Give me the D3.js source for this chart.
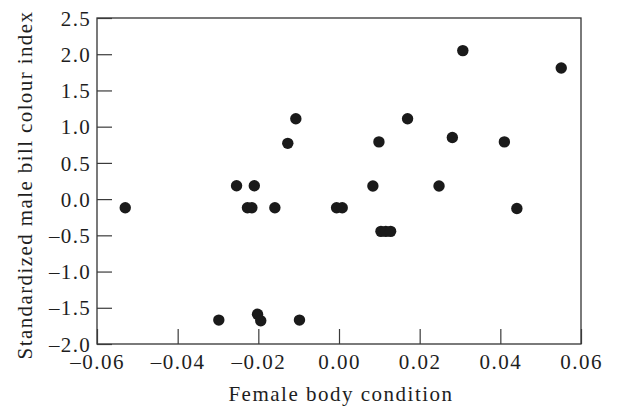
<!DOCTYPE html>
<html>
<head>
<meta charset="utf-8">
<script src="https://cdn.jsdelivr.net/npm/d3@7/dist/d3.min.js"></script>
<style>
  html, body { margin: 0; padding: 0; background: #fff; }
  svg { display: block; }
  text { font-family: "Liberation Serif", "DejaVu Serif", serif; fill: #1e1e1e; }
</style>
</head>
<body>
<svg id="chart" width="618" height="408"></svg>
<script>
// Data
const bodyCondition = [
  -0.0530, -0.0298, -0.0254, -0.0227, -0.0216, -0.0210, -0.0202, -0.0194, -0.0159,
  -0.0127, -0.0107, -0.0098, -0.0006, 0.0008, 0.0084, 0.0099, 0.0104, 0.0116,
  0.0128, 0.0170, 0.0248, 0.0281, 0.0307, 0.0410, 0.0441, 0.0551
];
const billColour = [
  -0.12, -1.67, 0.185, -0.12, -0.12, 0.185, -1.59, -1.68, -0.12,
  0.77, 1.11, -1.67, -0.12, -0.12, 0.18, 0.79, -0.445, -0.445,
  -0.445, 1.11, 0.18, 0.85, 2.05, 0.79, -0.13, 1.81
];
const xTicks = [-0.06, -0.04, -0.02, 0.00, 0.02, 0.04, 0.06];
const yTicks = [-2.0, -1.5, -1.0, -0.5, 0.0, 0.5, 1.0, 1.5, 2.0, 2.5];
const xTitle = "Female body condition";
const yTitle = "Standardized male bill colour index";

const svg = d3.select("#chart");
const mLeft = 97, mRight = 581, mTop = 18, mBottom = 344;

const x = d3.scaleLinear().domain([-0.06, 0.06]).range([mLeft, mRight]);
const y = d3.scaleLinear().domain([-2.0, 2.5]).range([mBottom, mTop]);

const fmtX = v => (v < 0 ? "\u2013" : "") + Math.abs(v).toFixed(2);
const fmtY = v => (v < 0 ? "\u2013" : "") + Math.abs(v).toFixed(1);

// Frame
svg.append("rect")
  .attr("x", mLeft).attr("y", mTop)
  .attr("width", mRight - mLeft).attr("height", mBottom - mTop)
  .attr("fill", "none").attr("stroke", "#333").attr("stroke-width", 1.3);

// X axis (ticks inward)
const xAxis = d3.axisBottom(x).tickValues(xTicks).tickSize(-15).tickPadding(10).tickFormat(fmtX);
const gx = svg.append("g").attr("transform", `translate(0,${mBottom})`).call(xAxis);
gx.select(".domain").remove();
gx.selectAll(".tick line").attr("stroke", "#3a3a3a").attr("stroke-width", 1.2);
gx.selectAll(".tick text")
  .attr("y", 25).attr("dy", 0)
  .style("font-size", "21px").style("letter-spacing", "1.5px")
  .attr("fill", "#1e1e1e");

// Y axis (ticks inward)
const yAxis = d3.axisLeft(y).tickValues(yTicks).tickSize(-15).tickPadding(6).tickFormat(fmtY);
const gy = svg.append("g").attr("transform", `translate(${mLeft},0)`).call(yAxis);
gy.select(".domain").remove();
gy.selectAll(".tick line").attr("stroke", "#3a3a3a").attr("stroke-width", 1.2);
gy.selectAll(".tick text")
  .attr("dy", "0.34em")
  .style("font-size", "21px").style("letter-spacing", "1.3px")
  .attr("fill", "#1e1e1e");

// Points
svg.append("g").selectAll("circle")
  .data(bodyCondition.map((d, i) => [d, billColour[i]]))
  .join("circle")
  .attr("cx", d => x(d[0]))
  .attr("cy", d => y(d[1]))
  .attr("r", 5.7)
  .attr("fill", "#1a1a1a");

// Titles
svg.append("text")
  .attr("x", (mLeft + mRight) / 2 + 2).attr("y", 401)
  .attr("text-anchor", "middle")
  .style("font-size", "21px").style("letter-spacing", "1.5px")
  .text(xTitle);

svg.append("text")
  .attr("transform", `translate(32,${(mTop + mBottom) / 2 + 4}) rotate(-90)`)
  .attr("text-anchor", "middle")
  .style("font-size", "21px").style("letter-spacing", "1.4px")
  .text(yTitle);
</script>
</body>
</html>
